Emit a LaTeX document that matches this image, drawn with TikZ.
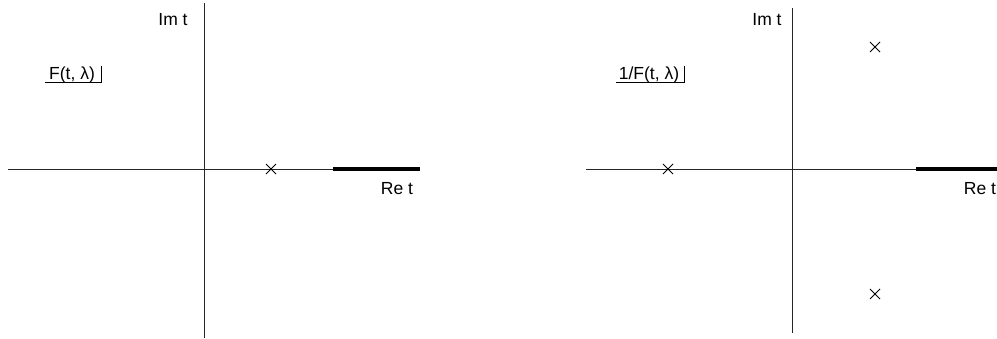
\documentclass[tikz,border=0pt]{standalone}
\usepackage{fontspec}
\setmainfont{Liberation Sans}
\usetikzlibrary{calc}
\begin{document}
\begin{tikzpicture}[x=1pt,y=-1pt,
  axis/.style={line width=1pt, draw=black!85},
  cut/.style={line width=3.6pt},
  lbl/.style={font=\fontsize{17.5}{20}\selectfont, inner sep=0pt},
  crossmark/.style={line width=0.9pt}]
\useasboundingbox (0,0) rectangle (997,338);
% ---- left panel ----
\coordinate (L1) at (8,169);
\coordinate (L2) at (420,169);
\coordinate (LV1) at (204,3);
\coordinate (LV2) at (204,338);
\draw[axis] (L1) -- (L2);
\draw[axis] (LV1) -- (LV2);
\coordinate (Lc1) at (333,169);
\draw[cut] (Lc1) -- (L2);
\node[lbl] (lim) at (173,20) {Im t};
\node[lbl] (lre) at (397,189) {Re t};
\coordinate (lx) at (271,169);
\draw[crossmark] ($(lx)+(-5,-5)$) -- ($(lx)+(5,5)$) ($(lx)+(-5,5)$) -- ($(lx)+(5,-5)$);
\node[lbl, anchor=base] (lF) at (72,79) {F(t, λ)};
\coordinate (lb1) at (45,82);
\coordinate (lb2) at (101,82);
\coordinate (lb3) at (101,66);
\draw[line width=0.8pt] (lb1) -- (lb2) -- (lb3);
% ---- right panel ----
\coordinate (R1) at (586,169);
\coordinate (R2) at (997,169);
\coordinate (RV1) at (792,8);
\coordinate (RV2) at (792,333);
\draw[axis] (R1) -- (R2);
\draw[axis] (RV1) -- (RV2);
\coordinate (Rc1) at (916,169);
\draw[cut] (Rc1) -- (R2);
\node[lbl] (rim) at (767,20) {Im t};
\node[lbl] (rre) at (980,189) {Re t};
\coordinate (rx1) at (668,169);
\coordinate (rx2) at (875,47);
\coordinate (rx3) at (875,294);
\foreach \p in {rx1,rx2,rx3}
  \draw[crossmark] ($(\p)+(-5,-5)$) -- ($(\p)+(5,5)$) ($(\p)+(-5,5)$) -- ($(\p)+(5,-5)$);
\node[lbl, anchor=base] (rF) at (649,79) {1/F(t, λ)};
\coordinate (rb1) at (616,82);
\coordinate (rb2) at (684,82);
\coordinate (rb3) at (684,66);
\draw[line width=0.8pt] (rb1) -- (rb2) -- (rb3);
\end{tikzpicture}
\end{document}
